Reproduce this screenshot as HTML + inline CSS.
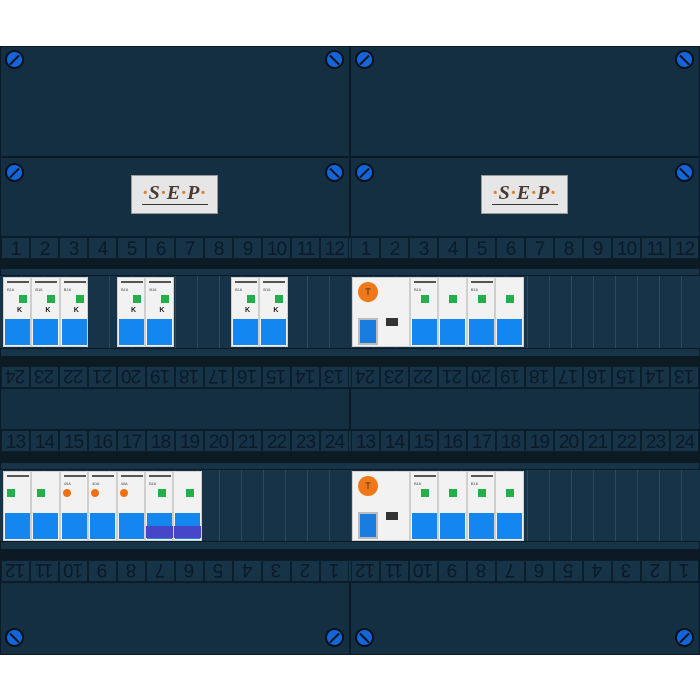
<!DOCTYPE html>
<html><head><meta charset="utf-8"><style>
body{margin:0;width:700px;height:700px;background:#fff;position:relative;overflow:hidden;font-family:"Liberation Sans",sans-serif}
div,span{position:absolute;box-sizing:border-box}
.p{background:#142f42;border:1px solid #0b1a25}
.dk{background:#0c1a24}
.st{background:#163348;border:1px solid #0b1a25}
.num{display:flex;height:22px;width:348px}
.num span{position:relative;display:block;flex:0 0 29px;width:29px;height:22px;border:1px solid #0d1e2b;background:#163348;color:#0b1a26;font-size:19px;text-align:center;line-height:24px;overflow:hidden;letter-spacing:-1px}
.flip{transform:rotate(180deg)}
.scr{width:19px;height:19px;border-radius:50%;background:#1565d8;border:2px solid #06121c}
.scr:after{content:"";position:absolute;left:1px;top:6.5px;width:13px;height:2px;background:#06121c;transform:rotate(-45deg)}
.scr.b:after{transform:rotate(45deg)}
.m{width:28.4px;height:70px;background:#f2f2f2;border:1px solid #cfcfcf}
.m .g{left:15px;top:17px;width:8px;height:8px;background:#22b04a}
.m .bl{left:1px;top:41px;width:25px;height:26px;background:#1486f0}
.m .w{left:3px;top:3px;width:22px;height:2px;background:#555}
.m .t{left:3px;top:9px;font-size:4px;color:#444;line-height:5px}
.m .k{left:13px;top:29px;font-size:7px;font-weight:bold;color:#222}
.rail{background:repeating-linear-gradient(90deg,#163348 0 21px,#2a4a60 21px 22px)}
.rcd{width:58px;height:70px;background:#f2f2f2;border:1px solid #cfcfcf}
.rcd .o{left:5px;top:4px;width:20px;height:20px;border-radius:50%;background:#f07818;color:#333;font-size:9px;text-align:center;line-height:20px}
.rcd .bx{left:5px;top:40px;width:20px;height:27px;background:#1a7be0;border:2px solid #bbb}
.rcd .sw{left:33px;top:40px;width:12px;height:8px;background:#333}
.logo{width:87px;height:39px;background:#e6e6e6;border:1px solid #999;font:italic bold 20px 'Liberation Serif',serif;color:#4a3a36;text-align:center;line-height:34px;letter-spacing:1px}
.logo b{color:#e08020}
</style></head><body>
<!-- top cover -->
<div class="p" style="left:0;top:46px;width:350px;height:111px"></div>
<div class="p" style="left:350px;top:46px;width:350px;height:111px"></div>
<div class="scr" style="left:5px;top:50px"></div><div class="scr b" style="left:325px;top:50px"></div>
<div class="scr" style="left:355px;top:50px"></div><div class="scr b" style="left:675px;top:50px"></div>
<!-- logo row -->
<div class="p" style="left:0;top:157px;width:350px;height:80px"></div>
<div class="p" style="left:350px;top:157px;width:350px;height:80px"></div>
<div class="scr" style="left:5px;top:163px"></div><div class="scr b" style="left:325px;top:163px"></div>
<div class="scr" style="left:355px;top:163px"></div><div class="scr b" style="left:675px;top:163px"></div>
<div class="logo" style="left:131px;top:175px"><b>·</b>S<b>·</b>E<b>·</b>P<b>·</b><div style="left:10px;top:28px;width:66px;height:1px;background:#333"></div></div>
<div class="logo" style="left:481px;top:175px"><b>·</b>S<b>·</b>E<b>·</b>P<b>·</b><div style="left:10px;top:28px;width:66px;height:1px;background:#333"></div></div>

<!-- number backgrounds -->
<div class="st" style="left:0;top:237px;width:700px;height:22px"></div>
<div class="st" style="left:0;top:366px;width:700px;height:22px"></div>
<div class="st" style="left:0;top:430px;width:700px;height:22px"></div>
<div class="st" style="left:0;top:560px;width:700px;height:22px"></div>

<!-- row 1 -->
<div class="num" style="left:1px;top:237px"><span>1</span><span>2</span><span>3</span><span>4</span><span>5</span><span>6</span><span>7</span><span>8</span><span>9</span><span>10</span><span>11</span><span>12</span></div>
<div class="num" style="left:351px;top:237px"><span>1</span><span>2</span><span>3</span><span>4</span><span>5</span><span>6</span><span>7</span><span>8</span><span>9</span><span>10</span><span>11</span><span>12</span></div>
<div class="dk" style="left:0;top:259px;width:700px;height:9px"></div>
<div class="st" style="left:0;top:268px;width:700px;height:8px"></div>
<div class="rail" style="left:0;top:276px;width:700px;height:72px"></div>
<div class="st" style="left:0;top:348px;width:700px;height:9px"></div>
<div class="dk" style="left:0;top:357px;width:700px;height:9px"></div>
<div class="num flip" style="left:1px;top:366px"><span>13</span><span>14</span><span>15</span><span>16</span><span>17</span><span>18</span><span>19</span><span>20</span><span>21</span><span>22</span><span>23</span><span>24</span></div>
<div class="num flip" style="left:351px;top:366px"><span>13</span><span>14</span><span>15</span><span>16</span><span>17</span><span>18</span><span>19</span><span>20</span><span>21</span><span>22</span><span>23</span><span>24</span></div>

<div class="m" style="left:3px;top:277px"><div class="w"></div><div class="t">B16</div><div class="g"></div><div class="k">K</div><div class="bl"></div></div>
<div class="m" style="left:31.4px;top:277px"><div class="w"></div><div class="t">B16</div><div class="g"></div><div class="k">K</div><div class="bl"></div></div>
<div class="m" style="left:59.8px;top:277px"><div class="w"></div><div class="t">B16</div><div class="g"></div><div class="k">K</div><div class="bl"></div></div>
<div class="m" style="left:117px;top:277px"><div class="w"></div><div class="t">B16</div><div class="g"></div><div class="k">K</div><div class="bl"></div></div>
<div class="m" style="left:145.4px;top:277px"><div class="w"></div><div class="t">B16</div><div class="g"></div><div class="k">K</div><div class="bl"></div></div>
<div class="m" style="left:231px;top:277px"><div class="w"></div><div class="t">B16</div><div class="g"></div><div class="k">K</div><div class="bl"></div></div>
<div class="m" style="left:259.4px;top:277px"><div class="w"></div><div class="t">B16</div><div class="g"></div><div class="k">K</div><div class="bl"></div></div>

<div class="rcd" style="left:352px;top:277px"><div class="o">T</div><div class="bx"></div><div class="sw"></div></div>
<div class="m" style="left:410px;top:277px"><div class="w"></div><div class="t">B16</div><div class="g" style="left:10px"></div><div class="bl"></div></div>
<div class="m" style="left:438.4px;top:277px"><div class="g" style="left:10px"></div><div class="bl"></div></div>
<div class="m" style="left:466.8px;top:277px"><div class="w"></div><div class="t">B16</div><div class="g" style="left:10px"></div><div class="bl"></div></div>
<div class="m" style="left:495.2px;top:277px"><div class="g" style="left:10px"></div><div class="bl"></div></div>

<!-- middle panel -->
<div class="p" style="left:0;top:388px;width:350px;height:42px"></div>
<div class="p" style="left:350px;top:388px;width:350px;height:42px"></div>

<!-- row 2 -->
<div class="num" style="left:1px;top:430px"><span>13</span><span>14</span><span>15</span><span>16</span><span>17</span><span>18</span><span>19</span><span>20</span><span>21</span><span>22</span><span>23</span><span>24</span></div>
<div class="num" style="left:351px;top:430px"><span>13</span><span>14</span><span>15</span><span>16</span><span>17</span><span>18</span><span>19</span><span>20</span><span>21</span><span>22</span><span>23</span><span>24</span></div>
<div class="dk" style="left:0;top:452px;width:700px;height:10px"></div>
<div class="st" style="left:0;top:462px;width:700px;height:8px"></div>
<div class="rail" style="left:0;top:470px;width:700px;height:71px"></div>
<div class="st" style="left:0;top:541px;width:700px;height:9px"></div>
<div class="dk" style="left:0;top:550px;width:700px;height:10px"></div>
<div class="num flip" style="left:1px;top:560px"><span>1</span><span>2</span><span>3</span><span>4</span><span>5</span><span>6</span><span>7</span><span>8</span><span>9</span><span>10</span><span>11</span><span>12</span></div>
<div class="num flip" style="left:351px;top:560px"><span>1</span><span>2</span><span>3</span><span>4</span><span>5</span><span>6</span><span>7</span><span>8</span><span>9</span><span>10</span><span>11</span><span>12</span></div>

<div class="m" style="left:3px;top:471px"><div class="w"></div><div class="g" style="left:3px"></div><div class="bl"></div></div>
<div class="m" style="left:31.4px;top:471px"><div class="g" style="left:5px"></div><div class="bl"></div></div>
<div class="m" style="left:59.8px;top:471px"><div class="w"></div><div class="t">40A</div><div class="g" style="left:2px;background:#f07010;border-radius:50%"></div><div class="bl"></div></div>
<div class="m" style="left:88.2px;top:471px"><div class="w"></div><div class="t">40A</div><div class="g" style="left:2px;background:#f07010;border-radius:50%"></div><div class="bl"></div></div>
<div class="m" style="left:116.6px;top:471px"><div class="w"></div><div class="t">40A</div><div class="g" style="left:2px;background:#f07010;border-radius:50%"></div><div class="bl"></div></div>
<div class="m" style="left:145px;top:471px"><div class="w"></div><div class="t">B16</div><div class="g" style="left:12px"></div><div class="bl"></div><div style="left:0;top:54px;width:27px;height:12px;background:#4646c8"></div></div>
<div class="m" style="left:173.4px;top:471px"><div class="g" style="left:12px"></div><div class="bl"></div><div style="left:0;top:54px;width:27px;height:12px;background:#4646c8"></div></div>

<div class="rcd" style="left:352px;top:471px"><div class="o">T</div><div class="bx"></div><div class="sw"></div></div>
<div class="m" style="left:410px;top:471px"><div class="w"></div><div class="t">B16</div><div class="g" style="left:10px"></div><div class="bl"></div></div>
<div class="m" style="left:438.4px;top:471px"><div class="g" style="left:10px"></div><div class="bl"></div></div>
<div class="m" style="left:466.8px;top:471px"><div class="w"></div><div class="t">B16</div><div class="g" style="left:10px"></div><div class="bl"></div></div>
<div class="m" style="left:495.2px;top:471px"><div class="g" style="left:10px"></div><div class="bl"></div></div>

<!-- bottom cover -->
<div class="p" style="left:0;top:582px;width:350px;height:73px"></div>
<div class="p" style="left:350px;top:582px;width:350px;height:73px"></div>
<div class="scr b" style="left:5px;top:628px"></div><div class="scr" style="left:325px;top:628px"></div>
<div class="scr b" style="left:355px;top:628px"></div><div class="scr" style="left:675px;top:628px"></div>
</body></html>
